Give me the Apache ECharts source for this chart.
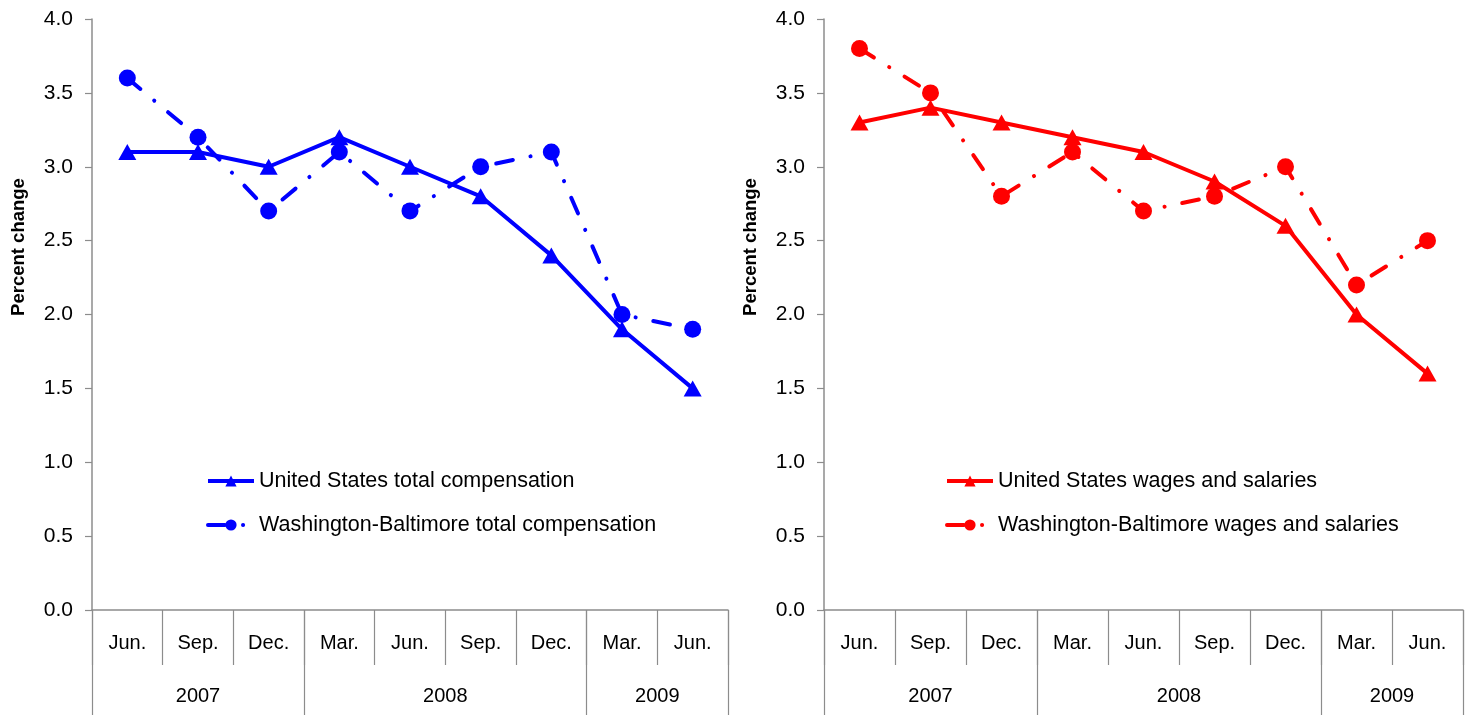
<!DOCTYPE html>
<html>
<head>
<meta charset="utf-8">
<script src="https://cdn.jsdelivr.net/npm/echarts@6/dist/echarts.min.js"></script>
<style>html,body{margin:0;padding:0;background:#fff}#c{width:1465px;height:715px}</style>
</head>
<body>
<div id="c"></div>
<script>
const months = ['Jun.','Sep.','Dec.','Mar.','Jun.','Sep.','Dec.','Mar.','Jun.'];
const years = ['2007','2008','2009'];
const quartersPerYear = [3, 4, 2];
const yTicks = [0, 0.5, 1, 1.5, 2, 2.5, 3, 3.5, 4];

const usTotalComp = [3.1, 3.1, 3.0, 3.2, 3.0, 2.8, 2.4, 1.9, 1.5];
const wbTotalComp = [3.6, 3.2, 2.7, 3.1, 2.7, 3.0, 3.1, 2.0, 1.9];
const usWages = [3.3, 3.4, 3.3, 3.2, 3.1, 2.9, 2.6, 2.0, 1.6];
const wbWages = [3.8, 3.5, 2.8, 3.1, 2.7, 2.8, 3.0, 2.2, 2.5];

const names = {
  usTC: 'United States total compensation',
  wbTC: 'Washington-Baltimore total compensation',
  usW: 'United States wages and salaries',
  wbW: 'Washington-Baltimore wages and salaries'
};

// year group boundaries and centers (in category units)
const bounds = [0];
quartersPerYear.forEach(q => bounds.push(bounds[bounds.length - 1] + q));
const centers = years.map((y, i) => (bounds[i] + bounds[i + 1]) / 2);

const FONT = "'Liberation Sans', Arial, sans-serif";
const AX = '#8c8c8c';
const dashDot = [17, 18, 0.1, 18];

function monthAxis(gi) {
  return {
    type: 'category', gridIndex: gi, data: months, boundaryGap: true,
    axisLine: {show: true, lineStyle: {color: AX, width: 1.5}},
    axisTick: {show: true, interval: 0, length: 55, lineStyle: {color: AX, width: 1.2}},
    axisLabel: {interval: 0, margin: 23, color: '#000', fontSize: 20, fontFamily: FONT},
    splitLine: {show: false}
  };
}
function yearAxis(gi) {
  return {
    type: 'value', gridIndex: gi, min: 0, max: months.length, position: 'bottom',
    axisLine: {show: false},
    axisTick: {show: true, customValues: bounds, length: 105, lineStyle: {color: AX, width: 1.2}},
    axisLabel: {customValues: centers, margin: 76, color: '#000', fontSize: 20, fontFamily: FONT,
      formatter: v => { const i = centers.indexOf(v); return i >= 0 ? years[i] : ''; }},
    splitLine: {show: false}
  };
}
function yAxis(gi) {
  return {
    type: 'value', gridIndex: gi, min: yTicks[0], max: yTicks[yTicks.length - 1], interval: 0.5,
    name: 'Percent change', nameLocation: 'middle', nameGap: 64,
    nameTextStyle: {fontSize: 18.5, fontWeight: 'bold', color: '#000', fontFamily: FONT, padding: [0, 0, 0, 135]},
    axisLine: {show: true, lineStyle: {color: AX, width: 1.5}},
    axisTick: {show: true, length: 7, lineStyle: {color: AX, width: 1.2}},
    axisLabel: {margin: 19, color: '#000', fontSize: 21, fontFamily: FONT, formatter: v => v.toFixed(1)},
    splitLine: {show: false}
  };
}
function solid(name, data, color, xi, yi) {
  return {name, type: 'line', data, xAxisIndex: xi, yAxisIndex: yi,
    symbol: 'triangle', symbolSize: [18, 16], showAllSymbol: true,
    lineStyle: {color, width: 4}, itemStyle: {color}, z: 3};
}
function dashed(name, data, color, xi, yi) {
  return {name, type: 'line', data, xAxisIndex: xi, yAxisIndex: yi,
    symbol: 'circle', symbolSize: 17, showAllSymbol: true,
    lineStyle: {color, width: 4, type: dashDot, cap: 'round'}, itemStyle: {color}, z: 2};
}
function legend(left, data) {
  return {left, top: 465, orient: 'vertical', itemWidth: 46, itemHeight: 14, itemGap: 22,
    data, lineStyle: {width: 4}, textStyle: {fontSize: 21.5, color: '#000', fontFamily: FONT}};
}

const chart = echarts.init(document.getElementById('c'), null, {renderer: 'canvas'});
chart.setOption({
  animation: false,
  backgroundColor: '#fff',
  textStyle: {fontFamily: FONT},
  grid: [
    {left: 92, top: 19, width: 636, bottom: 105},
    {left: 824, top: 19, width: 639, bottom: 105}
  ],
  xAxis: [monthAxis(0), yearAxis(0), monthAxis(1), yearAxis(1)],
  yAxis: [yAxis(0), yAxis(1)],
  legend: [legend(201, [names.usTC, names.wbTC]), legend(940, [names.usW, names.wbW])],
  series: [
    solid(names.usTC, usTotalComp, '#0000ff', 0, 0),
    dashed(names.wbTC, wbTotalComp, '#0000ff', 0, 0),
    solid(names.usW, usWages, '#ff0000', 2, 1),
    dashed(names.wbW, wbWages, '#ff0000', 2, 1)
  ]
});
</script>
</body>
</html>
